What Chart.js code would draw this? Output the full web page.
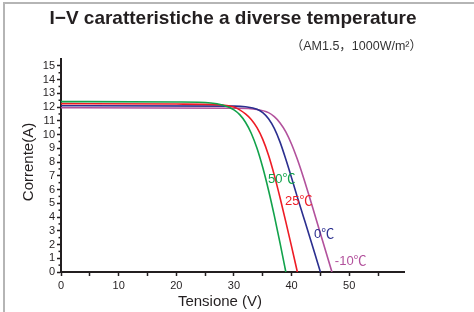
<!DOCTYPE html>
<html>
<head>
<meta charset="utf-8">
<script src="https://cdn.jsdelivr.net/npm/chart.js@4.4.1/dist/chart.umd.min.js"></script>
<style>
  html, body { margin: 0; padding: 0; background: #fff; }
  #wrap { position: relative; width: 474px; height: 312px; overflow: hidden; }
  #frame { position: absolute; left: 3px; top: 2px; right: -4px; bottom: -4px;
           border-top: 2px solid #b5b5b5; border-left: 2px solid #b5b5b5; }
  canvas { position: absolute; left: 0; top: 0; }
</style>
</head>
<body>
<div id="wrap">
  <div id="frame"></div>
  <canvas id="iv" width="474" height="312"></canvas>
</div>
<script>
// I-V curves (volts, amps)
const volt50 = [0, 20, 26, 28, 30, 31, 32, 33, 34, 35, 36, 37, 38, 39];
const amp50  = [12.4, 12.37, 12.3, 12.15, 11.8, 11.45, 10.9, 10.1, 9.0, 7.6, 5.95, 4.1, 2.1, 0];

const volt25 = [0, 20, 28, 30, 31, 32, 33, 34, 35, 36, 37, 38, 39, 40, 41];
const amp25  = [12.25, 12.22, 12.15, 12.0, 11.8, 11.5, 11.1, 10.5, 9.65, 8.5, 7.05, 5.4, 3.65, 1.85, 0];

const volt0 = [0, 30, 32, 34, 35, 36, 37, 38, 39, 40, 41, 42, 43, 44, 45];
const amp0  = [12.1, 12.07, 12.02, 11.85, 11.6, 11.15, 10.45, 9.45, 8.2, 6.85, 5.45, 4.1, 2.75, 1.38, 0];

const voltM10 = [0, 30, 34, 36, 37, 38, 39, 40, 41, 42, 43, 44, 45, 46, 47];
const ampM10  = [11.95, 11.92, 11.83, 11.6, 11.3, 10.85, 10.2, 9.3, 8.2, 6.95, 5.6, 4.2, 2.8, 1.4, 0];

const tempLabels = ['50℃', '25℃', '0℃', '-10℃'];
// where each temperature label sits, in (V, A)
const labelVolt = [35.9, 38.85, 43.9, 47.5];
const labelAmp  = [6.76, 5.16, 2.7, 0.8];

const colors = ['#12a24b', '#ee1c25', '#2b2f8f', '#b2519c'];
const ink = '#231f20';

const toPoints = (vs, is) => vs.map((v, i) => ({ x: v, y: is[i] }));
const series = [
  toPoints(volt50, amp50),
  toPoints(volt25, amp25),
  toPoints(volt0, amp0),
  toPoints(voltM10, ampM10)
];

const textPlugin = {
  id: 'texts',
  afterDraw(chart) {
    const { ctx, scales: { x, y } } = chart;
    ctx.save();
    ctx.fillStyle = ink;
    ctx.textBaseline = 'middle';

    ctx.font = 'bold 19px "Liberation Sans", Arial, sans-serif';
    ctx.textAlign = 'center';
    ctx.fillText('I−V caratteristiche a diverse temperature', 233, 19);

    ctx.font = '12.5px "Liberation Sans", "Noto Sans CJK SC", sans-serif';
    ctx.textAlign = 'right';
    ctx.fillStyle = '#333';
    ctx.fillText('（AM1.5，1000W/m²）', 422, 47);

    ctx.fillStyle = ink;
    ctx.font = '15px "Liberation Sans", Arial, sans-serif';
    ctx.textAlign = 'center';
    ctx.fillText('Tensione (V)', 220, 302);
    ctx.save();
    ctx.translate(29, 162);
    ctx.rotate(-Math.PI / 2);
    ctx.fillText('Corrente(A)', 0, 0);
    ctx.restore();

    // half-step ticks on the current axis
    ctx.strokeStyle = ink;
    ctx.lineWidth = 1.5;
    for (let v = 0.5; v < 15.5; v += 1) {
      const py = y.getPixelForValue(v);
      ctx.beginPath();
      ctx.moveTo(x.left - 2.5, py);
      ctx.lineTo(x.left, py);
      ctx.stroke();
    }

    // curve labels
    ctx.font = '13px "Liberation Sans", "Noto Sans CJK SC", sans-serif';
    ctx.textAlign = 'left';
    tempLabels.forEach((t, i) => {
      ctx.fillStyle = colors[i];
      ctx.fillText(t, x.getPixelForValue(labelVolt[i]), y.getPixelForValue(labelAmp[i]));
    });
    ctx.restore();
  }
};

new Chart(document.getElementById('iv'), {
  type: 'line',
  data: {
    datasets: series.map((pts, i) => ({
      label: tempLabels[i],
      data: pts,
      borderColor: colors[i],
      borderWidth: 1.6,
      pointRadius: 0,
      fill: false,
      cubicInterpolationMode: 'monotone'
    }))
  },
  options: {
    responsive: false,
    animation: false,
    layout: { padding: { top: 59, right: 70, left: 0, bottom: 0 } },
    plugins: { legend: { display: false }, tooltip: { enabled: false }, title: { display: false } },
    scales: {
      x: {
        type: 'linear',
        min: 0,
        max: 59.5,
        afterFit(s) { s.height = 40; },
        border: { display: true, color: ink, width: 2 },
        grid: { drawOnChartArea: false, drawTicks: true, tickLength: 4, tickColor: ink, tickWidth: 1.5 },
        ticks: {
          stepSize: 5,
          includeBounds: false,
          maxRotation: 0,
          autoSkip: false,
          padding: 3,
          color: ink,
          font: { family: '"Liberation Sans", Arial, sans-serif', size: 11 },
          callback: v => (v % 10 === 0 ? v : '')
        }
      },
      y: {
        type: 'linear',
        min: 0,
        max: 15.5,
        afterFit(s) { s.width = 61; },
        border: { display: true, color: ink, width: 2 },
        grid: { drawOnChartArea: false, drawTicks: true, tickLength: 4, tickColor: ink, tickWidth: 1.5 },
        ticks: {
          stepSize: 1,
          includeBounds: false,
          autoSkip: false,
          padding: 2,
          color: ink,
          font: { family: '"Liberation Sans", Arial, sans-serif', size: 11 }
        }
      }
    }
  },
  plugins: [textPlugin]
});
</script>
</body>
</html>
